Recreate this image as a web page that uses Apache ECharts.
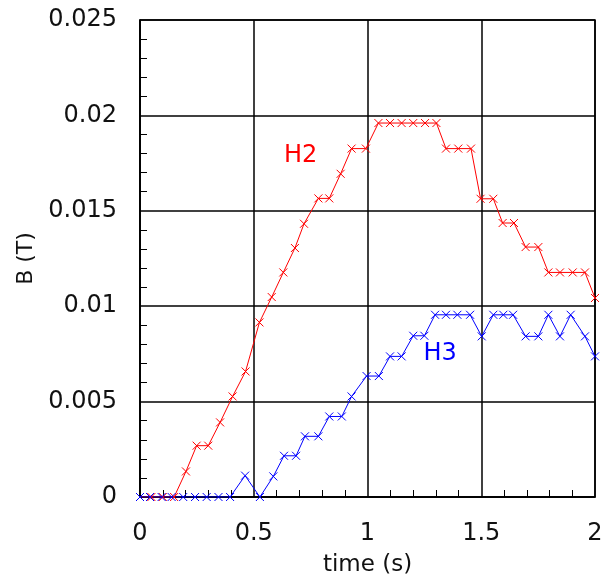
<!DOCTYPE html>
<html>
<head>
<meta charset="utf-8">
<script src="https://cdn.jsdelivr.net/npm/echarts@6/dist/echarts.min.js"></script>
<style>
  html, body { margin: 0; padding: 0; background: #fff; }
  #chart { width: 606px; height: 577px; }
</style>
</head>
<body>
<div id="chart"></div>
<script>
// Field readings of the two probes, [time (s), B (T)]
const h2Points = [
  [0.000, 0], [0.050, 0], [0.100, 0], [0.150, 0],
  [0.202, 0.00134], [0.249, 0.00269], [0.300, 0.00269], [0.352, 0.00391],
  [0.407, 0.00527], [0.464, 0.00658], [0.525, 0.00915], [0.579, 0.01048],
  [0.630, 0.01177], [0.681, 0.01305], [0.721, 0.01432], [0.784, 0.01565],
  [0.832, 0.01565], [0.882, 0.01694], [0.930, 0.01826], [0.993, 0.01826],
  [1.048, 0.01960], [1.099, 0.01960], [1.150, 0.01960], [1.201, 0.01960],
  [1.253, 0.01960], [1.303, 0.01960], [1.345, 0.01826], [1.399, 0.01826],
  [1.455, 0.01826], [1.497, 0.01563], [1.553, 0.01563], [1.594, 0.01436],
  [1.644, 0.01436], [1.695, 0.01310], [1.751, 0.01310], [1.795, 0.01177],
  [1.846, 0.01177], [1.902, 0.01177], [1.956, 0.01177], [2.000, 0.01043]
];
const h3Points = [
  [0.000, 0], [0.044, 0], [0.095, 0], [0.139, 0], [0.190, 0],
  [0.242, 0], [0.293, 0], [0.345, 0], [0.396, 0], [0.462, 0.00112],
  [0.527, 0], [0.586, 0.00108], [0.633, 0.00216], [0.686, 0.00216],
  [0.725, 0.00318], [0.784, 0.00318], [0.832, 0.00422], [0.887, 0.00422],
  [0.930, 0.00527], [0.996, 0.00634], [1.050, 0.00634], [1.099, 0.00737],
  [1.150, 0.00737], [1.201, 0.00845], [1.250, 0.00845], [1.297, 0.00955],
  [1.345, 0.00955], [1.395, 0.00955], [1.451, 0.00955], [1.502, 0.00842],
  [1.553, 0.00955], [1.597, 0.00955], [1.640, 0.00955], [1.695, 0.00842],
  [1.751, 0.00842], [1.795, 0.00955], [1.846, 0.00842], [1.893, 0.00955],
  [1.956, 0.00842], [2.000, 0.00737]
];
const xTicks = [0, 0.5, 1, 1.5, 2];
const yTicks = [0, 0.005, 0.01, 0.015, 0.02, 0.025];
const seriesNames = ['H2', 'H3'];
const seriesColors = ['#ff0000', '#0000ff'];
// Where each curve's name is written, in data coordinates
const nameSpots = [[0.706, 0.0179], [1.319, 0.0075]];

const crossMark = 'path://M0,0L10,10M10,0L0,10';
const fontFam = '"DejaVu Sans", Verdana, sans-serif';

function makeSeries(name, pts, color, spot) {
  return {
    name: name,
    type: 'line',
    data: pts,
    symbol: crossMark,
    symbolSize: 8,
    showAllSymbol: true,
    lineStyle: { color: color, width: 1 },
    itemStyle: { color: 'none', borderColor: color, borderWidth: 1 },
    emphasis: { disabled: true },
    animation: false,
    markPoint: {
      symbol: 'circle',
      symbolSize: 0,
      silent: true,
      animation: false,
      label: {
        show: true, position: 'inside', formatter: name,
        color: color, fontSize: 24, fontFamily: fontFam
      },
      data: [{ coord: spot }]
    }
  };
}

const chart = echarts.init(document.getElementById('chart'), null, { renderer: 'canvas' });
chart.setOption({
  backgroundColor: '#fff',
  animation: false,
  grid: {
    left: 140, right: 11, top: 20, bottom: 80,
    outerBoundsMode: 'none', containLabel: false,
    show: true, borderColor: '#000', borderWidth: 1.5, backgroundColor: 'transparent'
  },
  xAxis: {
    type: 'value',
    min: xTicks[0], max: xTicks[xTicks.length - 1], interval: 0.5,
    name: 'time (s)', nameLocation: 'middle', nameGap: 57,
    nameTextStyle: { color: '#111', fontSize: 23, fontFamily: fontFam },
    axisLine: { show: true, lineStyle: { color: '#000', width: 1.5 } },
    axisTick: { show: false, inside: true },
    minorTick: { show: true, splitNumber: 5, length: 7, lineStyle: { color: '#000', width: 1 } },
    axisLabel: {
      color: '#111', fontSize: 24, fontFamily: fontFam, margin: 25,
      formatter: v => String(v)
    },
    splitLine: { show: true, lineStyle: { color: '#000', width: 1.5 } }
  },
  yAxis: {
    type: 'value',
    min: yTicks[0], max: yTicks[yTicks.length - 1], interval: 0.005,
    name: 'B (T)', nameLocation: 'middle', nameGap: 94, nameRotate: 90,
    nameTextStyle: { color: '#111', fontSize: 22, fontFamily: fontFam },
    axisLine: { show: true, lineStyle: { color: '#000', width: 1.5 } },
    axisTick: { show: false, inside: true },
    minorTick: { show: true, splitNumber: 5, length: 7, lineStyle: { color: '#000', width: 1 } },
    axisLabel: {
      color: '#111', fontSize: 24, fontFamily: fontFam, margin: 23,
      formatter: v => String(+v.toFixed(3))
    },
    splitLine: { show: true, lineStyle: { color: '#000', width: 1.5 } }
  },
  series: [
    makeSeries(seriesNames[0], h2Points, seriesColors[0], nameSpots[0]),
    makeSeries(seriesNames[1], h3Points, seriesColors[1], nameSpots[1])
  ]
});
</script>
</body>
</html>
